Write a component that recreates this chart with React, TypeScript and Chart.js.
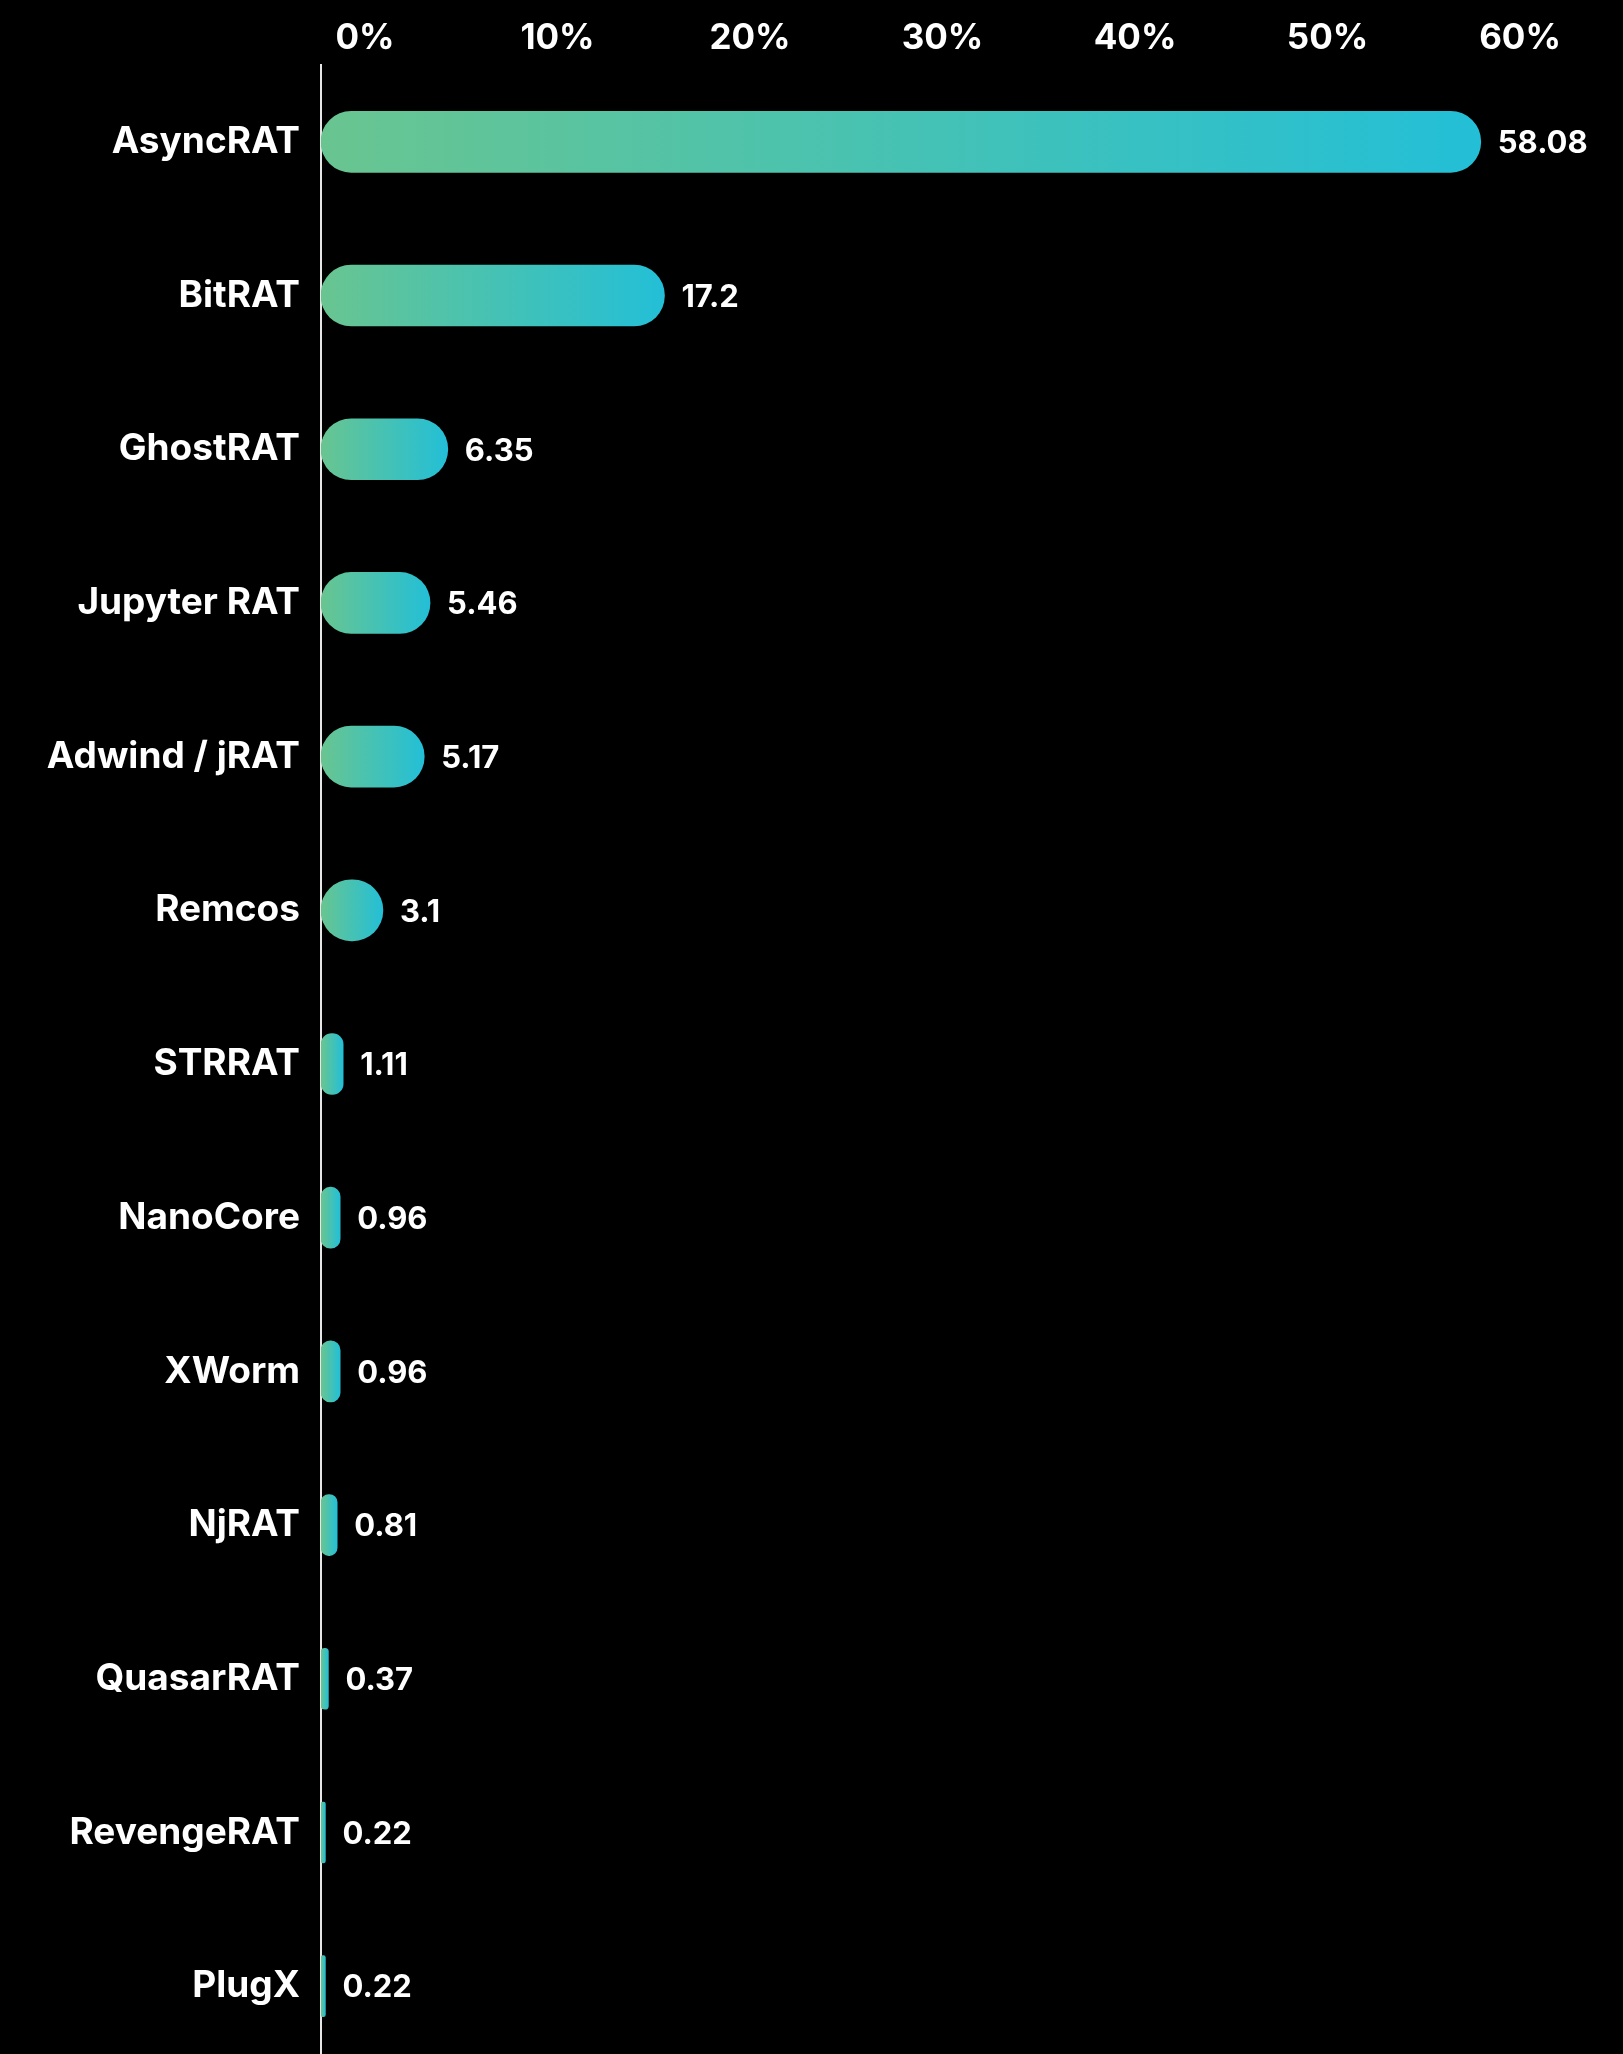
import React, { useEffect, useRef } from "react";
import { Chart, registerables } from "chart.js";

Chart.register(...registerables);

const categories = [
  "AsyncRAT",
  "BitRAT",
  "GhostRAT",
  "Jupyter RAT",
  "Adwind / jRAT",
  "Remcos",
  "STRRAT",
  "NanoCore",
  "XWorm",
  "NjRAT",
  "QuasarRAT",
  "RevengeRAT",
  "PlugX",
];
const values = [58.08, 17.2, 6.35, 5.46, 5.17, 3.1, 1.11, 0.96, 0.96, 0.81, 0.37, 0.22, 0.22];
const tickValues = [0, 10, 20, 30, 40, 50, 60];

const GRAD_LEFT = "#69c590";
const GRAD_RIGHT = "#23bfd7";

const bgPlugin = {
  id: "bgFill",
  beforeDraw(chart: any) {
    const { ctx, width, height } = chart;
    ctx.save();
    ctx.fillStyle = "#000";
    ctx.fillRect(0, 0, width, height);
    ctx.restore();
  },
};

const valueLabelPlugin = {
  id: "valueLabels",
  afterDatasetsDraw(chart: any) {
    const ctx = chart.ctx;
    const meta = chart.getDatasetMeta(0);
    ctx.save();
    ctx.fillStyle = "#ffffff";
    ctx.font = "700 31px Inter";
    ctx.textBaseline = "middle";
    ctx.textAlign = "left";
    meta.data.forEach((el: any, i: number) => {
      ctx.fillText(String(values[i]), el.x + 17, el.y + 2);
    });
    ctx.restore();
  },
};

export default function App() {
  const canvasRef = useRef<HTMLCanvasElement | null>(null);

  useEffect(() => {
    document.body.style.margin = "0";
    document.body.style.background = "#000";
    const canvas = canvasRef.current;
    if (!canvas) return;
    Chart.defaults.font.family = "Inter";

    const chart = new Chart(canvas, {
      type: "bar",
      data: {
        labels: categories,
        datasets: [
          {
            data: values,
            barThickness: 61,
            borderRadius: 31,
            borderSkipped: false,
            backgroundColor: (c: any) => {
              const ch = c.chart;
              if (!ch.chartArea || c.raw === undefined) return GRAD_RIGHT;
              const xs = ch.scales.x;
              const x0 = xs.getPixelForValue(0);
              const x1 = xs.getPixelForValue(c.raw);
              const g = ch.ctx.createLinearGradient(x0, 0, Math.max(x1, x0 + 1), 0);
              g.addColorStop(0, GRAD_LEFT);
              g.addColorStop(1, GRAD_RIGHT);
              return g;
            },
          },
        ],
      },
      options: {
        indexAxis: "y",
        responsive: false,
        animation: false,
        layout: { padding: { left: 0, right: 24, top: 0, bottom: 0 } },
        plugins: {
          legend: { display: false },
          tooltip: { enabled: false },
        },
        scales: {
          x: { type: "linear", min: 0, max: 64, display: false },
          x2: {
            type: "linear",
            axis: "x",
            position: "top",
            min: -2.286,
            max: 64.1,
            grid: { display: false, drawTicks: false },
            border: { display: false },
            afterBuildTicks: (s: any) => {
              s.ticks = tickValues.map((v) => ({ value: v }));
            },
            afterFit: (s: any) => {
              s.height = 65;
              s.paddingLeft = 0;
              s.paddingRight = 0;
            },
            ticks: {
              color: "#ffffff",
              font: { size: 35, weight: "700" },
              padding: 6,
              maxRotation: 0,
              autoSkip: false,
              callback: (v: any) => v + "%",
            },
          },
          y: {
            type: "category",
            offset: true,
            grid: { display: false, drawTicks: false },
            border: { display: true, color: "#e6e6e6", width: 2 },
            afterFit: (s: any) => {
              s.width = 321;
              s.paddingTop = 0;
              s.paddingBottom = 0;
            },
            ticks: {
              color: "#ffffff",
              font: { size: 37, weight: "700" },
              padding: 21,
              autoSkip: false,
            },
          },
        },
      } as any,
      plugins: [bgPlugin, valueLabelPlugin],
    });

    return () => {
      chart.destroy();
    };
  }, []);

  return (
    <div style={{ width: 1623, height: 2054, overflow: "hidden", background: "#000" }}>
      <canvas ref={canvasRef} width={1623} height={2063} style={{ display: "block" }} />
    </div>
  );
}
